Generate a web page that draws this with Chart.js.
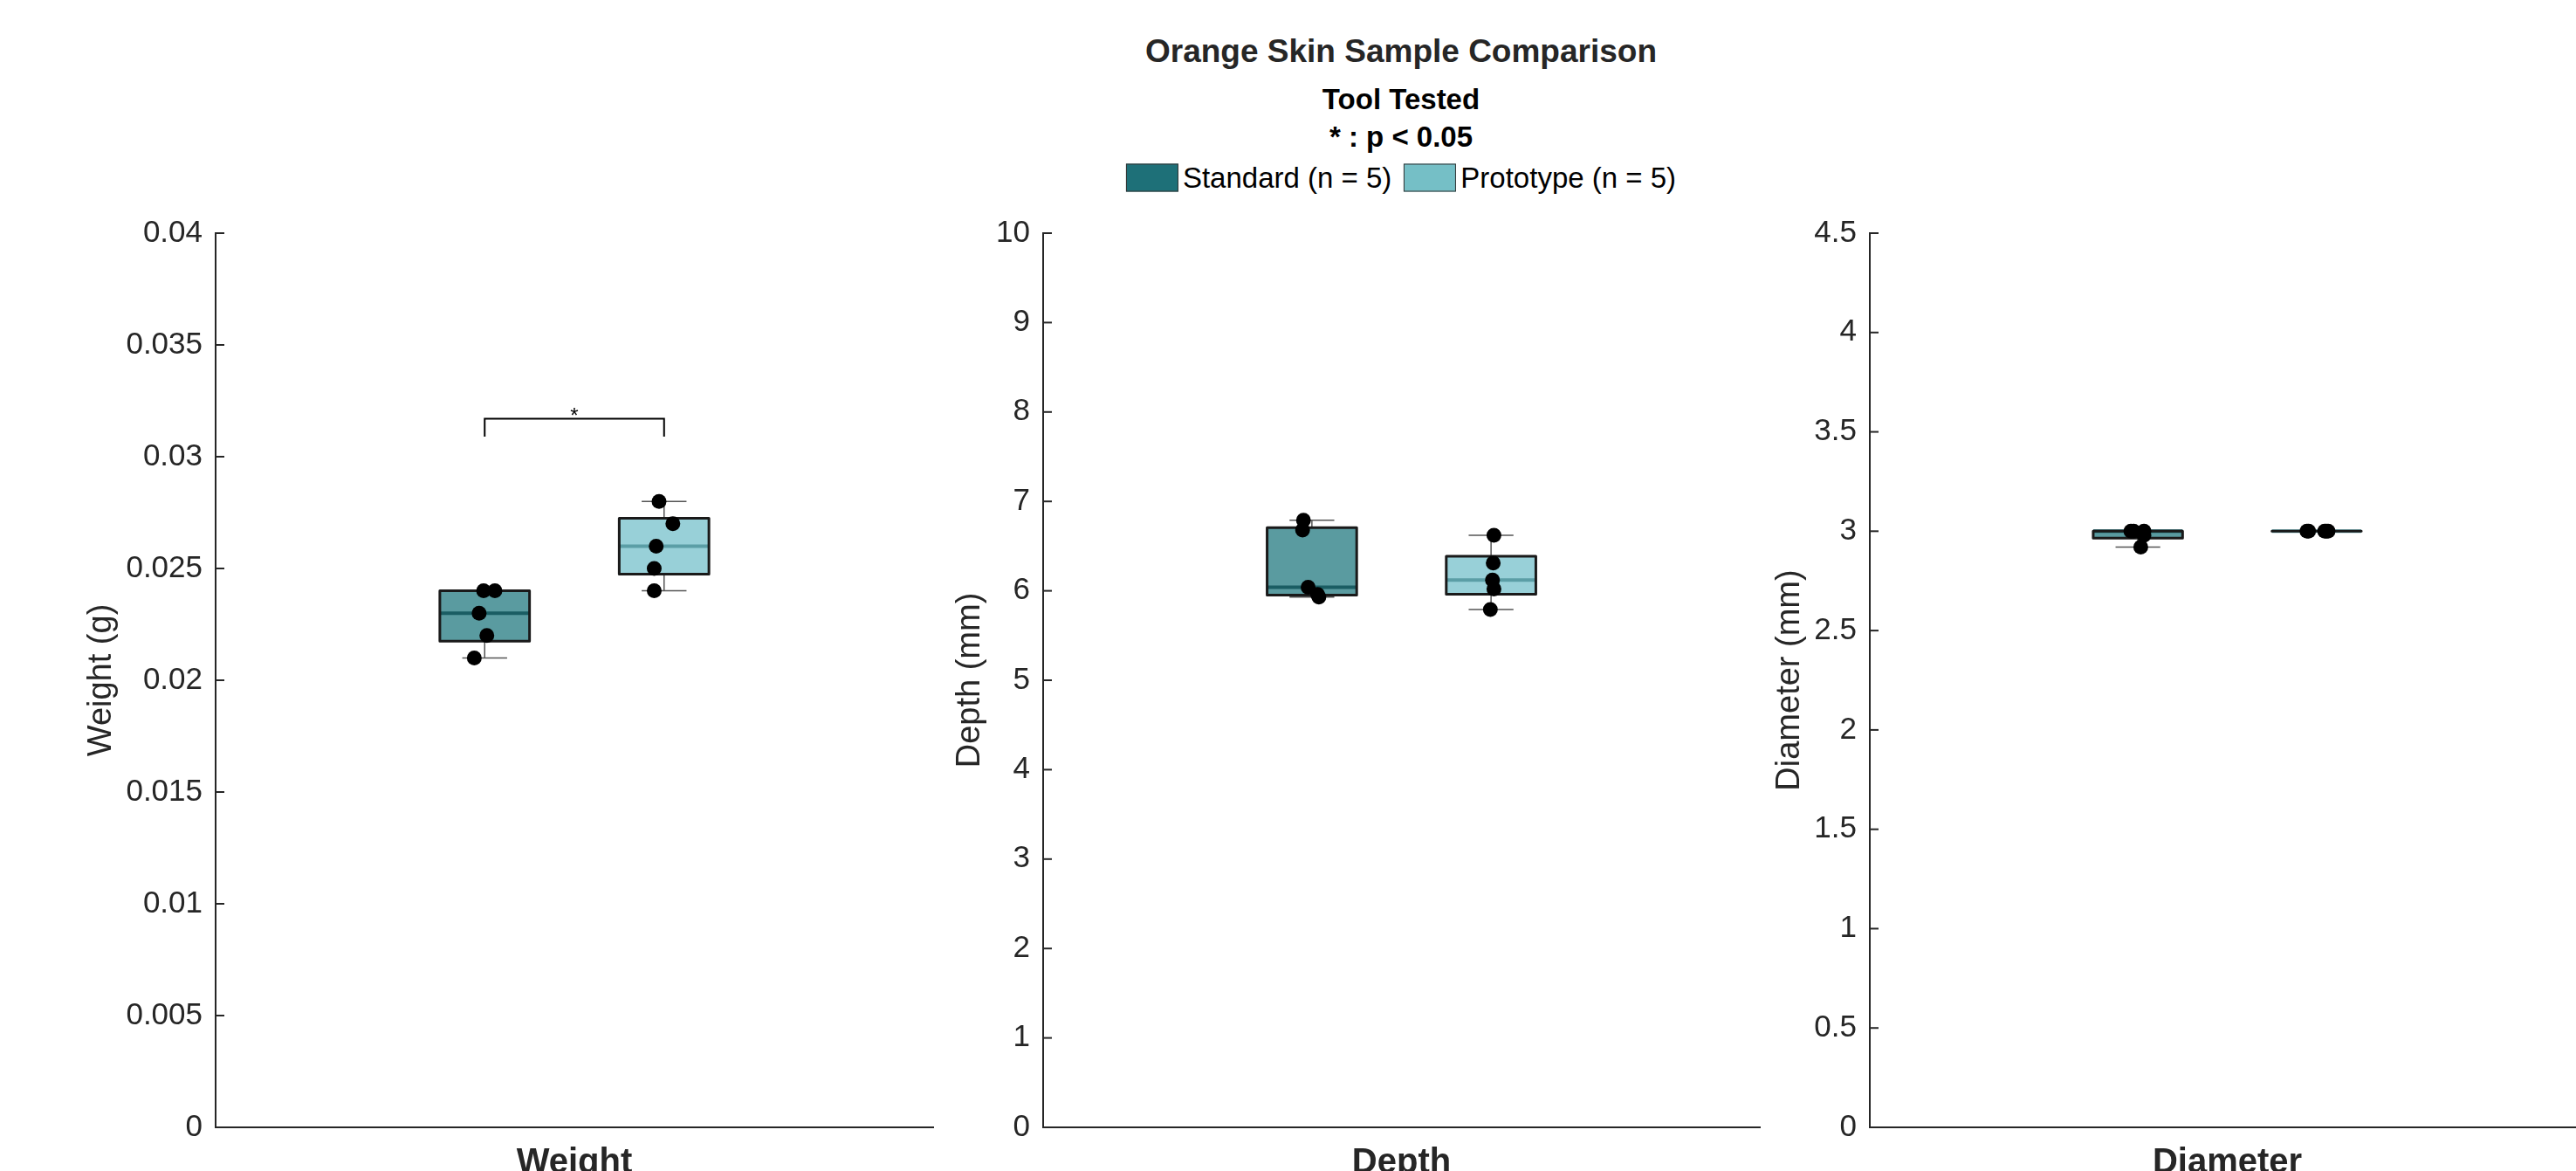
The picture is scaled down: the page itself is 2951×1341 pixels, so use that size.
<!DOCTYPE html>
<html>
<head>
<meta charset="utf-8">
<script src="https://cdn.jsdelivr.net/npm/chart.js@4.4.1/dist/chart.umd.min.js"></script>
<style>
  html, body { margin: 0; padding: 0; background: #fff; overflow: hidden; }
  #page { position: relative; width: 2951px; height: 1341px; overflow: hidden;
          font-family: "Liberation Sans", Arial, sans-serif; color: #262626; }
  canvas { position: absolute; top: 0; }
  .hdr { position: absolute; left: 1605px; transform: translate(-50%, -50%);
         white-space: nowrap; font-weight: bold; line-height: 1; }
  #legend { display: flex; align-items: center; font-weight: normal; font-size: 33px; color: #000; }
  #legend .sw { display: inline-block; width: 58px; height: 30px; border: 1.5px solid #333; margin-right: 5px; }
</style>
</head>
<body>
<div id="page">
  <div class="hdr" style="top:58px; font-size:37px;">Orange Skin Sample Comparison</div>
  <div class="hdr" style="top:113px; font-size:33px; color:#000;">Tool Tested</div>
  <div class="hdr" style="top:156px; font-size:33px; color:#000;">* : p &lt; 0.05</div>
  <div class="hdr" id="legend" style="top:203px;"></div>
  <canvas id="weightChart"></canvas>
  <canvas id="depthChart"></canvas>
  <canvas id="diameterChart"></canvas>
</div>
<script>
// groups (tool tested)
const groups = ['Standard', 'Prototype'];
const groupCounts = [5, 5];

// raw sample values
const weightStandard = [0.021, 0.022, 0.023, 0.024, 0.024];
const weightPrototype = [0.024, 0.025, 0.026, 0.027, 0.028];
const depthStandard = [5.93, 5.96, 6.04, 6.68, 6.79];
const depthPrototype = [5.79, 6.02, 6.12, 6.31, 6.62];
const diameterStandard = [2.92, 2.98, 3.0, 3.0, 3.0];
const diameterPrototype = [3.0, 3.0, 3.0, 3.0, 3.0];

// horizontal jitter of the dots (group units)
const weightStandardJitter = [-0.058, 0.012, -0.031, -0.006, 0.057];
const weightPrototypeJitter = [-0.055, -0.055, -0.044, 0.049, -0.028];
const depthStandardJitter = [0.039, 0.032, -0.021, -0.052, -0.047];
const depthPrototypeJitter = [-0.004, 0.016, 0.008, 0.012, 0.016];
const diameterStandardJitter = [0.016, 0.034, -0.039, 0.034, -0.024];
const diameterPrototypeJitter = [-0.054, -0.045, 0.045, 0.054, 0.064];

// y tick values
const weightTicks = [0, 0.005, 0.01, 0.015, 0.02, 0.025, 0.03, 0.035, 0.04];
const depthTicks = [0, 1, 2, 3, 4, 5, 6, 7, 8, 9, 10];
const diameterTicks = [0, 0.5, 1, 1.5, 2, 2.5, 3, 3.5, 4, 4.5];

// significance bracket on weight: [leg bottom, bracket top]
const weightSig = [0.0309, 0.0317];
const sigLabel = '*';

const FONT = "'Liberation Sans', Arial, sans-serif";
const INK = '#262626';
Chart.defaults.font.family = FONT;
Chart.defaults.color = INK;

const fillColors = ['#5a9ba0', '#98d0d8'];
const medianColors = ['#1a5d63', '#5b9ea6'];
const legendColors = ['#1e7078', '#75bfc6'];
const BOX_W = 0.5, CAP_W = 0.25;
const CANVAS_H = 1380, AREA_TOP = 267, AREA_BOTTOM = 1291;

// legend
const legend = document.getElementById('legend');
groups.forEach((g, i) => {
  const sw = document.createElement('span');
  sw.className = 'sw';
  sw.style.background = legendColors[i];
  if (i > 0) sw.style.marginLeft = '14px';
  const tx = document.createElement('span');
  tx.textContent = `${g} (n = ${groupCounts[i]})`;
  legend.appendChild(sw);
  legend.appendChild(tx);
});

// matlab-style quantile
function quantile(sorted, p) {
  const n = sorted.length;
  let pos = p * n + 0.5;
  pos = Math.min(Math.max(pos, 1), n);
  const lo = Math.floor(pos), hi = Math.ceil(pos);
  return sorted[lo - 1] + (pos - lo) * (sorted[hi - 1] - sorted[lo - 1]);
}

function line(ctx, x1, y1, x2, y2) {
  ctx.beginPath();
  ctx.moveTo(x1, y1);
  ctx.lineTo(x2, y2);
  ctx.stroke();
}

function boxPlugin(series) {
  return {
    id: 'boxes',
    beforeDatasetsDraw(chart) {
      const { ctx, scales: { x, y } } = chart;
      ctx.save();
      series.forEach((vals, g) => {
        const s = [...vals].sort((a, b) => a - b);
        const q1 = quantile(s, 0.25), med = quantile(s, 0.5), q3 = quantile(s, 0.75);
        const lo = s[0], hi = s[s.length - 1];
        const cx = x.getPixelForValue(g);
        const xl = x.getPixelForValue(g - BOX_W / 2), xr = x.getPixelForValue(g + BOX_W / 2);
        const cl = x.getPixelForValue(g - CAP_W / 2), cr = x.getPixelForValue(g + CAP_W / 2);
        // whiskers
        ctx.strokeStyle = '#555';
        ctx.lineWidth = 1.5;
        if (hi > q3) { line(ctx, cx, y.getPixelForValue(q3), cx, y.getPixelForValue(hi)); line(ctx, cl, y.getPixelForValue(hi), cr, y.getPixelForValue(hi)); }
        if (lo < q1) { line(ctx, cx, y.getPixelForValue(q1), cx, y.getPixelForValue(lo)); line(ctx, cl, y.getPixelForValue(lo), cr, y.getPixelForValue(lo)); }
        // box
        const yt = y.getPixelForValue(q3), yb = y.getPixelForValue(q1);
        ctx.fillStyle = fillColors[g];
        ctx.fillRect(xl, yt, xr - xl, yb - yt);
        // median
        ctx.strokeStyle = medianColors[g];
        ctx.lineWidth = 4;
        line(ctx, xl, y.getPixelForValue(med), xr, y.getPixelForValue(med));
        ctx.strokeStyle = '#1a1a1a';
        ctx.lineWidth = 3;
        ctx.lineJoin = 'round';
        ctx.strokeRect(xl, yt, xr - xl, yb - yt);
      });
      ctx.restore();
    }
  };
}

// matlab-style inward ticks on the y axis
const inTicks = {
  id: 'inTicks',
  afterDraw(chart) {
    const { ctx, chartArea, scales: { y } } = chart;
    ctx.save();
    ctx.strokeStyle = INK;
    ctx.lineWidth = 2;
    y.ticks.forEach((t, i) => {
      const py = y.getPixelForTick(i);
      line(ctx, chartArea.left, py, chartArea.left + 10, py);
    });
    ctx.restore();
  }
};

function sigPlugin(sig) {
  return {
    id: 'sig',
    afterDatasetsDraw(chart) {
      const { ctx, scales: { x, y } } = chart;
      const x0 = x.getPixelForValue(0), x1 = x.getPixelForValue(1);
      const yl = y.getPixelForValue(sig[0]), yt = y.getPixelForValue(sig[1]);
      ctx.save();
      ctx.strokeStyle = '#000';
      ctx.lineWidth = 2;
      ctx.beginPath();
      ctx.moveTo(x0, yl);
      ctx.lineTo(x0, yt);
      ctx.lineTo(x1, yt);
      ctx.lineTo(x1, yl);
      ctx.stroke();
      ctx.fillStyle = '#000';
      ctx.font = `24px ${FONT}`;
      ctx.textAlign = 'center';
      ctx.textBaseline = 'alphabetic';
      ctx.fillText(sigLabel, (x0 + x1) / 2, yt + 5);
      ctx.restore();
    }
  };
}

const panels = [
  { id: 'weightChart', label: 'Weight', yTitle: 'Weight (g)', ticks: weightTicks,
    series: [weightStandard, weightPrototype], jitter: [weightStandardJitter, weightPrototypeJitter],
    left: 0, width: 1100, axisLeft: 247, axisRight: 1069, titlePad: 94, sig: weightSig },
  { id: 'depthChart', label: 'Depth', yTitle: 'Depth (mm)', ticks: depthTicks,
    series: [depthStandard, depthPrototype], jitter: [depthStandardJitter, depthPrototypeJitter],
    left: 1050, width: 1000, axisLeft: 1195, axisRight: 2016, titlePad: 39 },
  { id: 'diameterChart', label: 'Diameter', yTitle: 'Diameter (mm)', ticks: diameterTicks,
    series: [diameterStandard, diameterPrototype], jitter: [diameterStandardJitter, diameterPrototypeJitter],
    left: 2000, width: 1000, axisLeft: 2142, axisRight: 2961, titlePad: 28 }
];

panels.forEach(p => {
  const canvas = document.getElementById(p.id);
  canvas.width = p.width;
  canvas.height = CANVAS_H;
  canvas.style.left = p.left + 'px';
  canvas.style.width = p.width + 'px';
  canvas.style.height = CANVAS_H + 'px';

  const plugins = [boxPlugin(p.series), inTicks];
  if (p.sig) plugins.push(sigPlugin(p.sig));

  new Chart(canvas, {
    type: 'scatter',
    data: {
      datasets: p.series.map((vals, g) => ({
        label: groups[g],
        data: vals.map((v, i) => ({ x: g + p.jitter[g][i], y: v })),
        pointRadius: 8.5,
        pointHoverRadius: 8.5,
        backgroundColor: '#000',
        borderWidth: 0
      }))
    },
    options: {
      responsive: false,
      animation: false,
      events: [],
      layout: { padding: { top: AREA_TOP, left: 0, bottom: 0, right: p.left + p.width - p.axisRight } },
      plugins: { legend: { display: false }, tooltip: { enabled: false } },
      scales: {
        x: {
          type: 'linear', min: -1.5, max: 2.5,
          ticks: { display: false },
          grid: { display: false },
          border: { color: INK, width: 2 },
          title: { display: true, text: p.label, color: INK, font: { size: 40, weight: 'bold' }, padding: { top: 0, bottom: 24 } },
          afterFit: s => { s.height = CANVAS_H - AREA_BOTTOM; }
        },
        y: {
          type: 'linear',
          min: p.ticks[0], max: p.ticks[p.ticks.length - 1],
          afterBuildTicks: s => { s.ticks = p.ticks.map(v => ({ value: v })); },
          ticks: { padding: 15, color: INK, font: { size: 35 }, callback: v => String(+v.toFixed(4)) },
          grid: { display: false, drawTicks: false },
          border: { color: INK, width: 2 },
          title: { display: true, text: p.yTitle, color: INK, font: { size: 38 }, padding: { top: p.titlePad, bottom: 0 } },
          afterFit: s => { s.width = p.axisLeft - p.left; }
        }
      }
    },
    plugins
  });
});
</script>
</body>
</html>
